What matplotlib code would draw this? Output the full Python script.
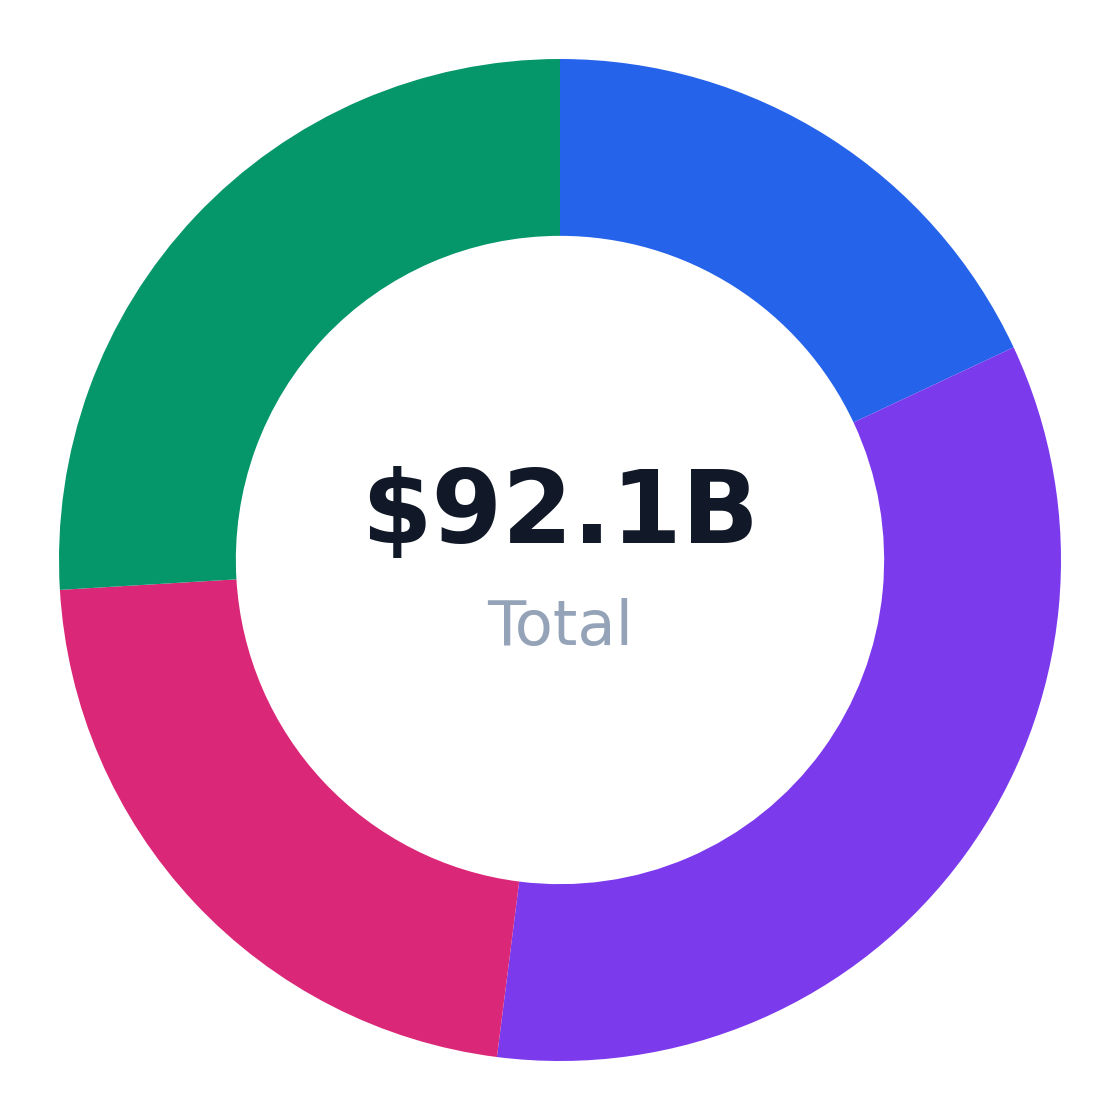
import matplotlib
matplotlib.use("Agg")
import matplotlib.pyplot as plt

# Valores (em bilhões)
segmentos = ["A", "B", "C", "D"]
valores = [16.6, 31.3, 20.3, 23.9]
cores = ["#2563eb", "#7c3aed", "#db2777", "#059669"]
total_txt = "$92.1B"
rotulo_txt = "Total"

fig = plt.figure(figsize=(11.2, 11.2), dpi=100)
ax = fig.add_axes([0, 0, 1, 1])

ax.pie(valores, colors=cores, startangle=90, counterclock=False,
       radius=1.0, wedgeprops=dict(width=0.353, linewidth=0))

lim = 560 / 501
ax.set_xlim(-lim, lim)
ax.set_ylim(-lim, lim)
ax.set_aspect("equal")
ax.axis("off")

ax.text(0, 0.09, total_txt, ha="center", va="center", fontsize=73,
        fontweight="bold", color="#111827")
ax.text(0, -0.135, rotulo_txt, ha="center", va="center", fontsize=45,
        color="#94a3b8")

fig.savefig("out.png", dpi=100, facecolor="white")
